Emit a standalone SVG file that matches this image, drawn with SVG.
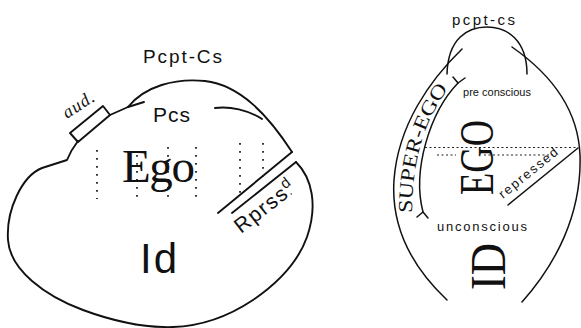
<svg xmlns="http://www.w3.org/2000/svg" width="581" height="328" viewBox="0 0 581 328">
  <style>
    .ln{fill:none;stroke:#111;stroke-width:1.9;stroke-linecap:round;stroke-linejoin:round}
    .thin{fill:none;stroke:#111;stroke-width:1.5;stroke-linecap:round;stroke-linejoin:round}
    .dotL{fill:none;stroke:#222;stroke-width:1.8;stroke-dasharray:1.8 6.2}
    .dotR{fill:none;stroke:#222;stroke-width:1.2;stroke-dasharray:2 2.5}
    .sans{font-family:"Liberation Sans","DejaVu Sans",sans-serif;fill:#111}
    .serif{font-family:"Liberation Serif","DejaVu Serif",serif;fill:#111}
  </style>
  <defs>
    <!-- baseline curve for the SUPER-EGO label -->
    <path id="superEgoBase" d="M 412,213 C 412,170 420,125 451,85"/>
  </defs>
  <rect width="581" height="328" fill="#fff"/>

  <!-- Left: topographic sketch -->
  <g id="left-figure">
    <g id="left-outline">
      <path class="ln" d="M 78,141 Q 71,150 67,160 L 42,168 C 22,176 6,210 8,240 C 10,270 45,296 83,310 C 110,320 140,328 173,327 C 205,326 232,314 253,300 C 278,283 298,262 307,237 C 318,205 312,178 296,162"/>
      <polygon class="ln" points="70,133 103,106 110,115 78,142"/>
      <path class="ln" d="M 110,115 L 128,107"/>
      <path class="ln" d="M 128,107 C 145,86 175,78 205,81 C 240,85 268,115 292,152"/>
      <path class="ln" d="M 128,107 L 144,102"/>
      <path class="ln" d="M 215,108 C 230,106 248,110 262,119"/>
      <path class="ln" d="M 292,152 L 218,213"/>
      <path class="ln" d="M 296,162 L 232,213"/>
    </g>
    <g id="left-dots">
      <path class="dotL" d="M 97,150 V 199"/>
      <path class="dotL" d="M 137,155 V 198"/>
      <path class="dotL" d="M 168,147 V 198"/>
      <path class="dotL" d="M 196,147 V 198"/>
      <path class="dotL" d="M 240,143 V 198"/>
      <path class="dotL" d="M 263,143 V 178"/>
    </g>
    <g id="left-labels">
      <text class="sans" x="143" y="63" font-size="19" textLength="79">Pcpt-Cs</text>
      <text class="sans" x="153" y="122" font-size="21" textLength="37">Pcs</text>
      <text class="serif" x="122" y="182" font-size="47" textLength="73">Ego</text>
      <text class="sans" x="140" y="273" font-size="42" textLength="37">Id</text>
      <text class="serif" font-style="italic" font-size="18" letter-spacing="1" transform="translate(67,119) rotate(-33)">aud.</text>
      <text class="sans" font-size="21" letter-spacing="1.5" transform="translate(241,234) rotate(-38)">Rprss<tspan font-size="12">.</tspan><tspan font-size="15" dx="-5" dy="-8">d</tspan></text>
    </g>
  </g>

  <!-- Right: structural sketch -->
  <g id="right-figure">
    <g id="right-outline">
      <path class="thin" d="M 447,74 C 448,38 468,27 487,27 C 507,27 527,40 527,74"/>
      <path class="thin" d="M 462,49 C 430,80 398,125 394,180 C 391,225 410,265 447,300"/>
      <path class="thin" d="M 512,47 C 545,70 578,105 580,155 C 582,215 555,265 522,302"/>
      <path class="thin" d="M 458,83 C 430,112 412,170 423,212"/>
      <path class="thin" d="M 453,77 L 458,83 L 465,78"/>
      <path class="thin" d="M 417,217 L 423,212 L 428,218"/>
      <path class="thin" d="M 508,205 L 578,148"/>
    </g>
    <g id="right-dots">
      <path class="dotR" d="M 425,147.5 H 578"/>
      <path class="dotR" d="M 437,155 H 456"/>
      <path class="dotR" d="M 484,155 H 553"/>
    </g>
    <g id="right-labels">
      <text class="sans" x="452" y="25" font-size="15" textLength="63">pcpt-cs</text>
      <text class="sans" x="463" y="96" font-size="11" textLength="68">pre conscious</text>
      <text class="sans" x="437" y="231" font-size="13" textLength="90">unconscious</text>
      <text class="sans" font-size="13" transform="translate(503,199) rotate(-39)" textLength="72">repressed</text>
      <text class="serif" font-size="48" transform="translate(493,195) rotate(-90)" textLength="75" lengthAdjust="spacingAndGlyphs">EGO</text>
      <text class="serif" font-size="50" transform="translate(505,290) rotate(-90)" textLength="47" lengthAdjust="spacingAndGlyphs">ID</text>
      <text class="serif" font-size="20"><textPath href="#superEgoBase" textLength="132" lengthAdjust="spacingAndGlyphs">SUPER-EGO</textPath></text>
    </g>
  </g>
</svg>
